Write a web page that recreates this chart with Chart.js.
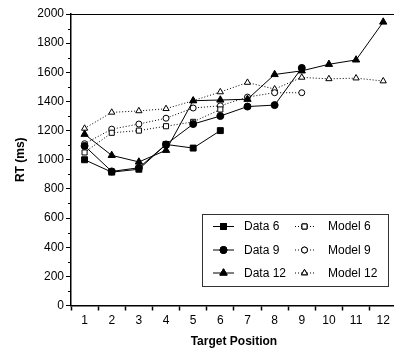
<!DOCTYPE html>
<html>
<head>
  <meta charset="UTF-8" />
  <title>RT by target position</title>
  <script src="https://cdn.jsdelivr.net/npm/chart.js"></script>
  <style>
    html, body { margin: 0; padding: 0; background: #fff; overflow: hidden; }
    #wrap { width: 402px; height: 351px; }
  </style>
</head>
<body>
  <div id="wrap"><canvas id="rtChart" width="402" height="351"></canvas></div>

  <script>
    const positions = ['1', '2', '3', '4', '5', '6', '7', '8', '9', '10', '11', '12'];

    const data6 = [1000, 915, 935, 1105, 1080, 1200];
    const data9 = [1095, 920, 945, 1105, 1245, 1300, 1365, 1375, 1630];
    const data12 = [1175, 1030, 985, 1065, 1405, 1410, 1415, 1585, 1610, 1655, 1685, 1945];

    const model6 = [1050, 1185, 1200, 1230, 1260, 1345];
    const model9 = [1110, 1210, 1245, 1285, 1355, 1370, 1430, 1460, 1460];
    const model12 = [1215, 1325, 1335, 1350, 1405, 1465, 1530, 1485, 1565, 1555, 1560, 1540];

    const FONT = "'Liberation Sans', Arial, sans-serif";

    const dataSet = (label, values, shape, r) => ({
      label: label,
      data: values,
      borderColor: '#000',
      borderWidth: 1,
      pointStyle: shape,
      pointRadius: r,
      pointBackgroundColor: '#000',
      pointBorderColor: '#000',
      pointBorderWidth: 1,
      fill: false,
      tension: 0,
    });

    const modelSet = (label, values, shape, r) => ({
      label: label,
      data: values,
      borderColor: '#000',
      borderWidth: 1,
      borderDash: [1, 2],
      pointStyle: shape,
      pointRadius: r,
      pointBackgroundColor: '#fff',
      pointBorderColor: '#000',
      pointBorderWidth: 1,
      fill: false,
      tension: 0,
    });

    // minor y ticks, top/right frame, boxed legend
    const extras = {
      id: 'extras',
      afterDraw(chart) {
        const ctx = chart.ctx;
        const area = chart.chartArea;
        const y = chart.scales.y;
        ctx.save();
        ctx.strokeStyle = '#000';
        ctx.lineWidth = 1;
        for (let v = 100; v < 2000; v += 200) {
          const py = Math.round(y.getPixelForValue(v)) + 0.5;
          ctx.beginPath();
          ctx.moveTo(area.left - 3, py);
          ctx.lineTo(area.left, py);
          ctx.stroke();
        }
        ctx.beginPath();
        ctx.moveTo(area.left, Math.round(area.top) + 0.5);
        ctx.lineTo(area.right, Math.round(area.top) + 0.5);
        ctx.lineTo(area.right, area.bottom);
        ctx.stroke();

        // legend
        const bx = 202, by = 214, bw = 186, bh = 72;
        ctx.fillStyle = '#fff';
        ctx.fillRect(bx, by, bw, bh);
        ctx.strokeStyle = '#333';
        ctx.strokeRect(bx + 0.5, by + 0.5, bw, bh);

        const sets = chart.data.datasets;
        const rows = [226, 249.5, 272.5];
        const cols = [{ x0: 213, x1: 234, tx: 244 }, { x0: 295, x1: 314, tx: 328 }];
        ctx.font = '12px ' + FONT;
        ctx.textBaseline = 'middle';
        ctx.textAlign = 'left';
        sets.forEach((ds, i) => {
          const c = cols[i < 3 ? 0 : 1];
          const ry = rows[i % 3];
          ctx.strokeStyle = '#000';
          ctx.lineWidth = 1;
          ctx.setLineDash(ds.borderDash || []);
          ctx.beginPath();
          ctx.moveTo(c.x0, ry + 0.5);
          ctx.lineTo(c.x1, ry + 0.5);
          ctx.stroke();
          ctx.setLineDash([]);
          Chart.helpers.drawPoint(ctx, {
            pointStyle: ds.pointStyle,
            radius: ds.pointRadius,
            borderWidth: 1,
            rotation: 0,
          }, (c.x0 + c.x1) / 2, ry + 0.5);
          ctx.fillStyle = ds.pointBackgroundColor;
          ctx.fill();
          ctx.stroke();
          ctx.fillStyle = '#000';
          ctx.fillText(ds.label, c.tx, ry + 1);
        });
        ctx.restore();
      }
    };

    new Chart(document.getElementById('rtChart'), {
      type: 'line',
      data: {
        labels: positions,
        datasets: [
          dataSet('Data 6', data6, 'rect', 4.2),
          dataSet('Data 9', data9, 'circle', 3.5),
          dataSet('Data 12', data12, 'triangle', 4.2),
          modelSet('Model 6', model6, 'rect', 3.6),
          modelSet('Model 9', model9, 'circle', 3),
          modelSet('Model 12', model12, 'triangle', 3.6),
        ]
      },
      options: {
        responsive: false,
        animation: false,
        devicePixelRatio: 1,
        layout: { padding: { top: 14, right: 2, left: 0, bottom: 0 } },
        plugins: {
          legend: { display: false },
          tooltip: { enabled: false },
        },
        scales: {
          x: {
            type: 'category',
            offset: true,
            grid: {
              offset: true,
              drawOnChartArea: false,
              drawTicks: true,
              tickLength: 5,
              tickColor: '#000',
              tickWidth: 1.5,
            },
            border: { display: true, color: '#000', width: 1.5 },
            ticks: {
              color: '#000',
              font: { family: FONT, size: 12 },
              padding: 3,
              maxRotation: 0,
              autoSkip: false,
            },
            title: {
              display: true,
              text: 'Target Position',
              color: '#000',
              font: { family: FONT, size: 12, weight: 'bold' },
              padding: { top: 4, bottom: 2 },
            },
            afterFit(scale) { scale.height = 45.5; }
          },
          y: {
            min: 0,
            max: 2000,
            ticks: {
              stepSize: 200,
              color: '#000',
              font: { family: FONT, size: 12 },
              padding: 2,
              callback: (v) => String(v),
            },
            grid: {
              drawOnChartArea: false,
              drawTicks: true,
              tickLength: 5,
              tickColor: '#000',
              tickWidth: 1,
            },
            border: { display: true, color: '#000', width: 1.5 },
            title: {
              display: true,
              text: 'RT (ms)',
              color: '#000',
              font: { family: FONT, size: 12, weight: 'bold' },
              padding: { top: 13, bottom: 4 },
            },
            afterFit(scale) { scale.width = 71; }
          }
        }
      },
      plugins: [extras]
    });
  </script>
</body>
</html>
